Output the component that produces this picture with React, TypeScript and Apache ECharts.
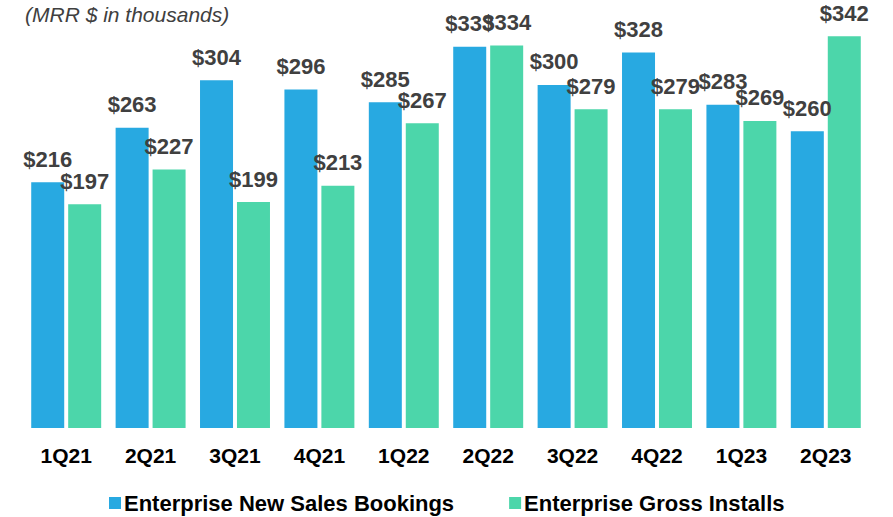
import React, { useEffect, useRef } from "react";
import * as echarts from "echarts";

const categories = ["1Q21", "2Q21", "3Q21", "4Q21", "1Q22", "2Q22", "3Q22", "4Q22", "1Q23", "2Q23"];
const bookings = [216, 263, 304, 296, 285, 333, 300, 328, 283, 260];
const installs = [197, 227, 199, 213, 267, 334, 279, 279, 269, 342];
const seriesNames = ["Enterprise New Sales Bookings", "Enterprise Gross Installs"];
const titleText = "(MRR $ in thousands)";

const FONT = "'Liberation Sans', Arial, Helvetica, sans-serif";

export default function App() {
  const ref = useRef<HTMLDivElement>(null);
  useEffect(() => {
    if (!ref.current) return;
    const chart = echarts.init(ref.current, null, { renderer: "svg" });
    const label = {
      show: true,
      position: "top",
      distance: 12,
      formatter: (p: any) => "$" + p.value,
      color: "#404040",
      fontSize: 22,
      fontWeight: "bold",
      fontFamily: FONT,
    };
    chart.setOption({
      animation: false,
      backgroundColor: "#ffffff",
      title: {
        text: titleText,
        left: 20,
        top: -1,
        textStyle: { color: "#404040", fontSize: 21, fontStyle: "italic", fontWeight: "normal", fontFamily: FONT },
      },
      legend: {
        left: 104,
        top: 487,
        icon: "rect",
        itemWidth: 12,
        itemHeight: 12,
        itemGap: 55,
        textStyle: { color: "#000000", fontSize: 22, fontWeight: "bold", fontFamily: FONT, padding: [0, 0, 0, -2] },
        data: seriesNames,
      },
      grid: { left: 24, right: 25, top: 27, bottom: 89, containLabel: false },
      xAxis: {
        type: "category",
        data: categories,
        axisLine: { show: false },
        axisTick: { show: false },
        axisLabel: { color: "#000000", fontSize: 21, fontWeight: "bold", fontFamily: FONT, margin: 17 },
      },
      yAxis: {
        type: "value",
        min: 4,
        max: 350,
        show: false,
        splitLine: { show: false },
      },
      series: [
        {
          name: seriesNames[0],
          type: "bar",
          data: bookings,
          barWidth: 33,
          barGap: "12%",
          clip: true,
          itemStyle: { color: "#28a9e1" },
          label,
        },
        {
          name: seriesNames[1],
          type: "bar",
          data: installs,
          barWidth: 33,
          barGap: "12%",
          clip: true,
          itemStyle: { color: "#4cd6aa" },
          label,
        },
      ],
    });
    return () => chart.dispose();
  }, []);
  return (
    <div
      ref={ref}
      style={{ position: "absolute", left: 0, top: 0, width: 893, height: 517, background: "#fff" }}
    />
  );
}
